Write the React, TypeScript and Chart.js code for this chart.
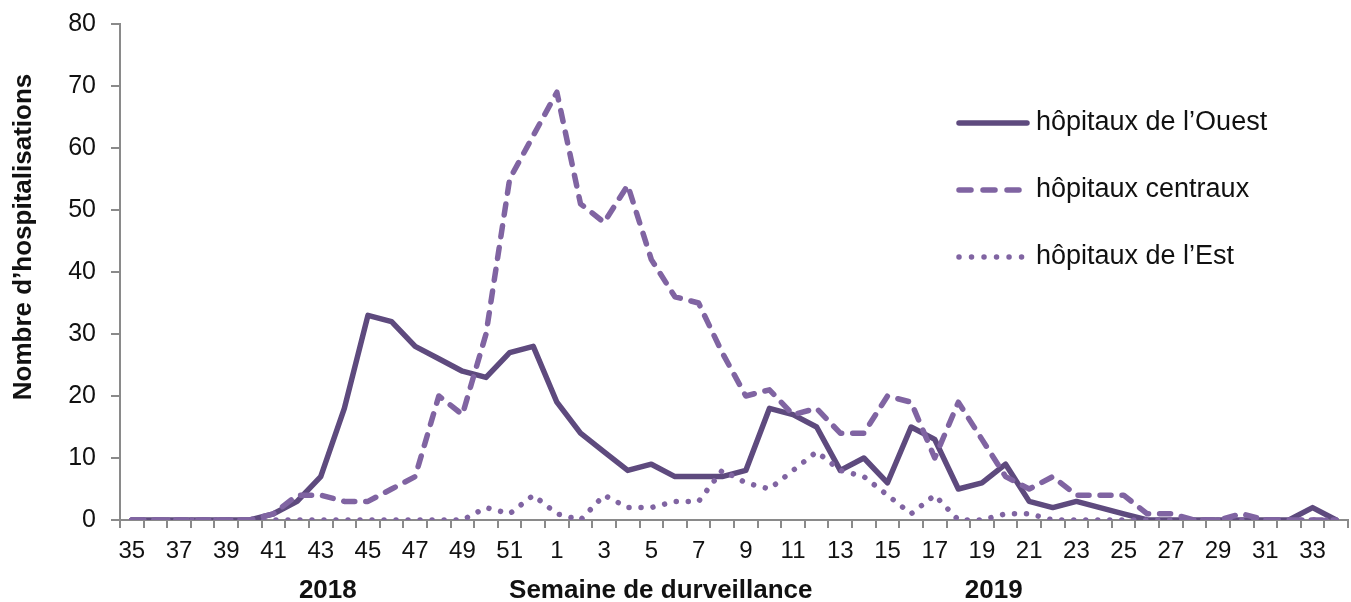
import React, { useEffect, useRef } from 'react';
import { Chart, registerables } from 'chart.js';

Chart.register(...registerables);

const FONT = "'Liberation Sans', Arial, Helvetica, sans-serif";
const COLOR_OUEST = '#5E4A7E';
const COLOR_CENTRE = '#8064A2';
const COLOR_EST = '#8064A2';
const AXIS_COLOR = '#8A8A8A';
const TEXT_COLOR = '#111111';

// Weeks of surveillance: 35..52 (2018), then 1..34 (2019)
const weeks2018 = ['35', '36', '37', '38', '39', '40', '41', '42', '43', '44', '45', '46', '47', '48', '49', '50', '51', '52'];
const weeks2019 = ['1', '2', '3', '4', '5', '6', '7', '8', '9', '10', '11', '12', '13', '14', '15', '16', '17', '18', '19', '20', '21', '22', '23', '24', '25', '26', '27', '28', '29', '30', '31', '32', '33', '34'];
const weeks = [...weeks2018, ...weeks2019];

// Series values (hospitalisations per week)
const ouest = [
  0, 0, 0, 0, 0, 0, 1, 3, 7, 18, 33, 32, 28, 26, 24, 23, 27, 28,
  19, 14, 11, 8, 9, 7, 7, 7, 8, 18, 17, 15, 8, 10, 6, 15, 13, 5, 6, 9, 3, 2, 3, 2, 1, 0, 0, 0, 0, 0, 0, 0, 2, 0,
];
const centraux = [
  0, 0, 0, 0, 0, 0, 1, 4, 4, 3, 3, 5, 7, 20, 17, 30, 55, 62,
  69, 51, 48, 54, 42, 36, 35, 27, 20, 21, 17, 18, 14, 14, 20, 19, 10, 19, 13, 7, 5, 7, 4, 4, 4, 1, 1, 0, 0, 1, 0, 0, 0, 0,
];
const est = [
  0, 0, 0, 0, 0, 0, 0, 0, 0, 0, 0, 0, 0, 0, 0, 2, 1, 4,
  1, 0, 4, 2, 2, 3, 3, 8, 6, 5, 8, 11, 8, 7, 4, 1, 4, 0, 0, 1, 1, 0, 0, 0, 0, 0, 0, 0, 0, 0, 0, 0, 0, 0,
];

const seriesNames = ['hôpitaux de l’Ouest', 'hôpitaux centraux', 'hôpitaux de l’Est'];
const yTicks = ['0', '10', '20', '30', '40', '50', '60', '70', '80'];
const yTitle = 'Nombre d’hospitalisations';
const xTitle = 'Semaine de durveillance';
const years = ['2018', '2019'];

const DASH_LINE = [11, 11];
const DOT_LINE = [0.01, 12];

const textPlugin = {
  id: 'customTexts',
  afterDraw(chart: any) {
    const { ctx, scales } = chart;
    const xs = scales.x;
    const step = (xs.right - xs.left) / weeks.length;
    const at = (i: number) => xs.left + (i + 0.5) * step;

    ctx.save();
    ctx.fillStyle = TEXT_COLOR;
    ctx.font = `bold 26px ${FONT}`;
    ctx.textAlign = 'center';
    ctx.textBaseline = 'alphabetic';
    ctx.fillText(years[0], at(8.3), 598);
    ctx.fillText(xTitle, at(22.4), 598);
    ctx.fillText(years[1], at(36.5), 598);

    ctx.save();
    ctx.translate(24, 237);
    ctx.rotate(-Math.PI / 2);
    ctx.textBaseline = 'middle';
    ctx.fillText(yTitle, 0, 0);
    ctx.restore();

    // Legend
    const rows = [123, 190, 257];
    const styles = [
      { color: COLOR_OUEST, dash: [] as number[], width: 5.5 },
      { color: COLOR_CENTRE, dash: [12, 12], width: 5.5 },
      { color: COLOR_EST, dash: [0.01, 12.5], width: 5.5 },
    ];
    for (let i = 0; i < 3; i++) {
      const y = rows[i];
      const s = styles[i];
      ctx.beginPath();
      ctx.strokeStyle = s.color;
      ctx.lineWidth = s.width;
      ctx.lineCap = 'round';
      ctx.setLineDash(s.dash);
      ctx.moveTo(959, y);
      ctx.lineTo(1027, y);
      ctx.stroke();
      ctx.setLineDash([]);
      ctx.fillStyle = TEXT_COLOR;
      ctx.font = `27px ${FONT}`;
      ctx.textAlign = 'left';
      ctx.textBaseline = 'middle';
      ctx.fillText(seriesNames[i], 1036, y);
    }
    ctx.restore();
  },
};

export default function App() {
  const ref = useRef<HTMLCanvasElement | null>(null);

  useEffect(() => {
    if (!ref.current) return;
    const chart = new Chart(ref.current, {
      type: 'line',
      data: {
        labels: weeks,
        datasets: [
          {
            label: seriesNames[0],
            data: ouest,
            borderColor: COLOR_OUEST,
            backgroundColor: COLOR_OUEST,
            borderWidth: 5.5,
            pointRadius: 0,
            tension: 0,
            borderJoinStyle: 'round',
            borderCapStyle: 'round',
            order: 3,
          },
          {
            label: seriesNames[1],
            data: centraux,
            borderColor: COLOR_CENTRE,
            backgroundColor: COLOR_CENTRE,
            borderWidth: 5.5,
            borderDash: DASH_LINE,
            pointRadius: 0,
            tension: 0,
            borderJoinStyle: 'round',
            borderCapStyle: 'round',
            order: 2,
          },
          {
            label: seriesNames[2],
            data: est,
            borderColor: COLOR_EST,
            backgroundColor: COLOR_EST,
            borderWidth: 5.5,
            borderDash: DOT_LINE,
            pointRadius: 0,
            tension: 0,
            borderJoinStyle: 'round',
            borderCapStyle: 'round',
            order: 1,
          },
        ],
      },
      options: {
        responsive: false,
        animation: false,
        devicePixelRatio: 1,
        layout: { padding: { top: 24, right: 3, left: 0, bottom: 0 } },
        plugins: {
          legend: { display: false },
          tooltip: { enabled: false },
          title: { display: false },
        },
        scales: {
          x: {
            type: 'category',
            offset: true,
            grid: {
              display: true,
              drawOnChartArea: false,
              drawTicks: true,
              tickLength: 8,
              offset: true,
              color: AXIS_COLOR,
              lineWidth: 2,
            },
            border: { display: true, color: AXIS_COLOR, width: 2 },
            ticks: {
              autoSkip: false,
              maxRotation: 0,
              minRotation: 0,
              padding: 9,
              color: TEXT_COLOR,
              font: { family: FONT, size: 24 },
              callback: (_v: any, i: number) => (i % 2 === 0 ? weeks[i] : ''),
            },
            afterFit: (scale: any) => {
              scale.height = 82;
              scale.paddingLeft = 0;
              scale.paddingRight = 0;
            },
          },
          y: {
            min: 0,
            max: 80,
            grid: {
              display: true,
              drawOnChartArea: false,
              drawTicks: true,
              tickLength: 9,
              color: AXIS_COLOR,
              lineWidth: 2,
            },
            border: { display: true, color: AXIS_COLOR, width: 2 },
            ticks: {
              stepSize: 10,
              padding: 15,
              color: TEXT_COLOR,
              font: { family: FONT, size: 25 },
              callback: (v: any) => yTicks[Math.round(Number(v) / 10)] ?? String(v),
            },
            afterFit: (scale: any) => {
              scale.width = 120;
              scale.paddingTop = 0;
              scale.paddingBottom = 0;
            },
          },
        },
      },
      plugins: [textPlugin],
    } as any);
    return () => chart.destroy();
  }, []);

  return (
    <div style={{ position: 'fixed', left: 0, top: 0, width: 1351, height: 602, background: '#ffffff' }}>
      <canvas ref={ref} width={1351} height={602} style={{ display: 'block' }} />
    </div>
  );
}
